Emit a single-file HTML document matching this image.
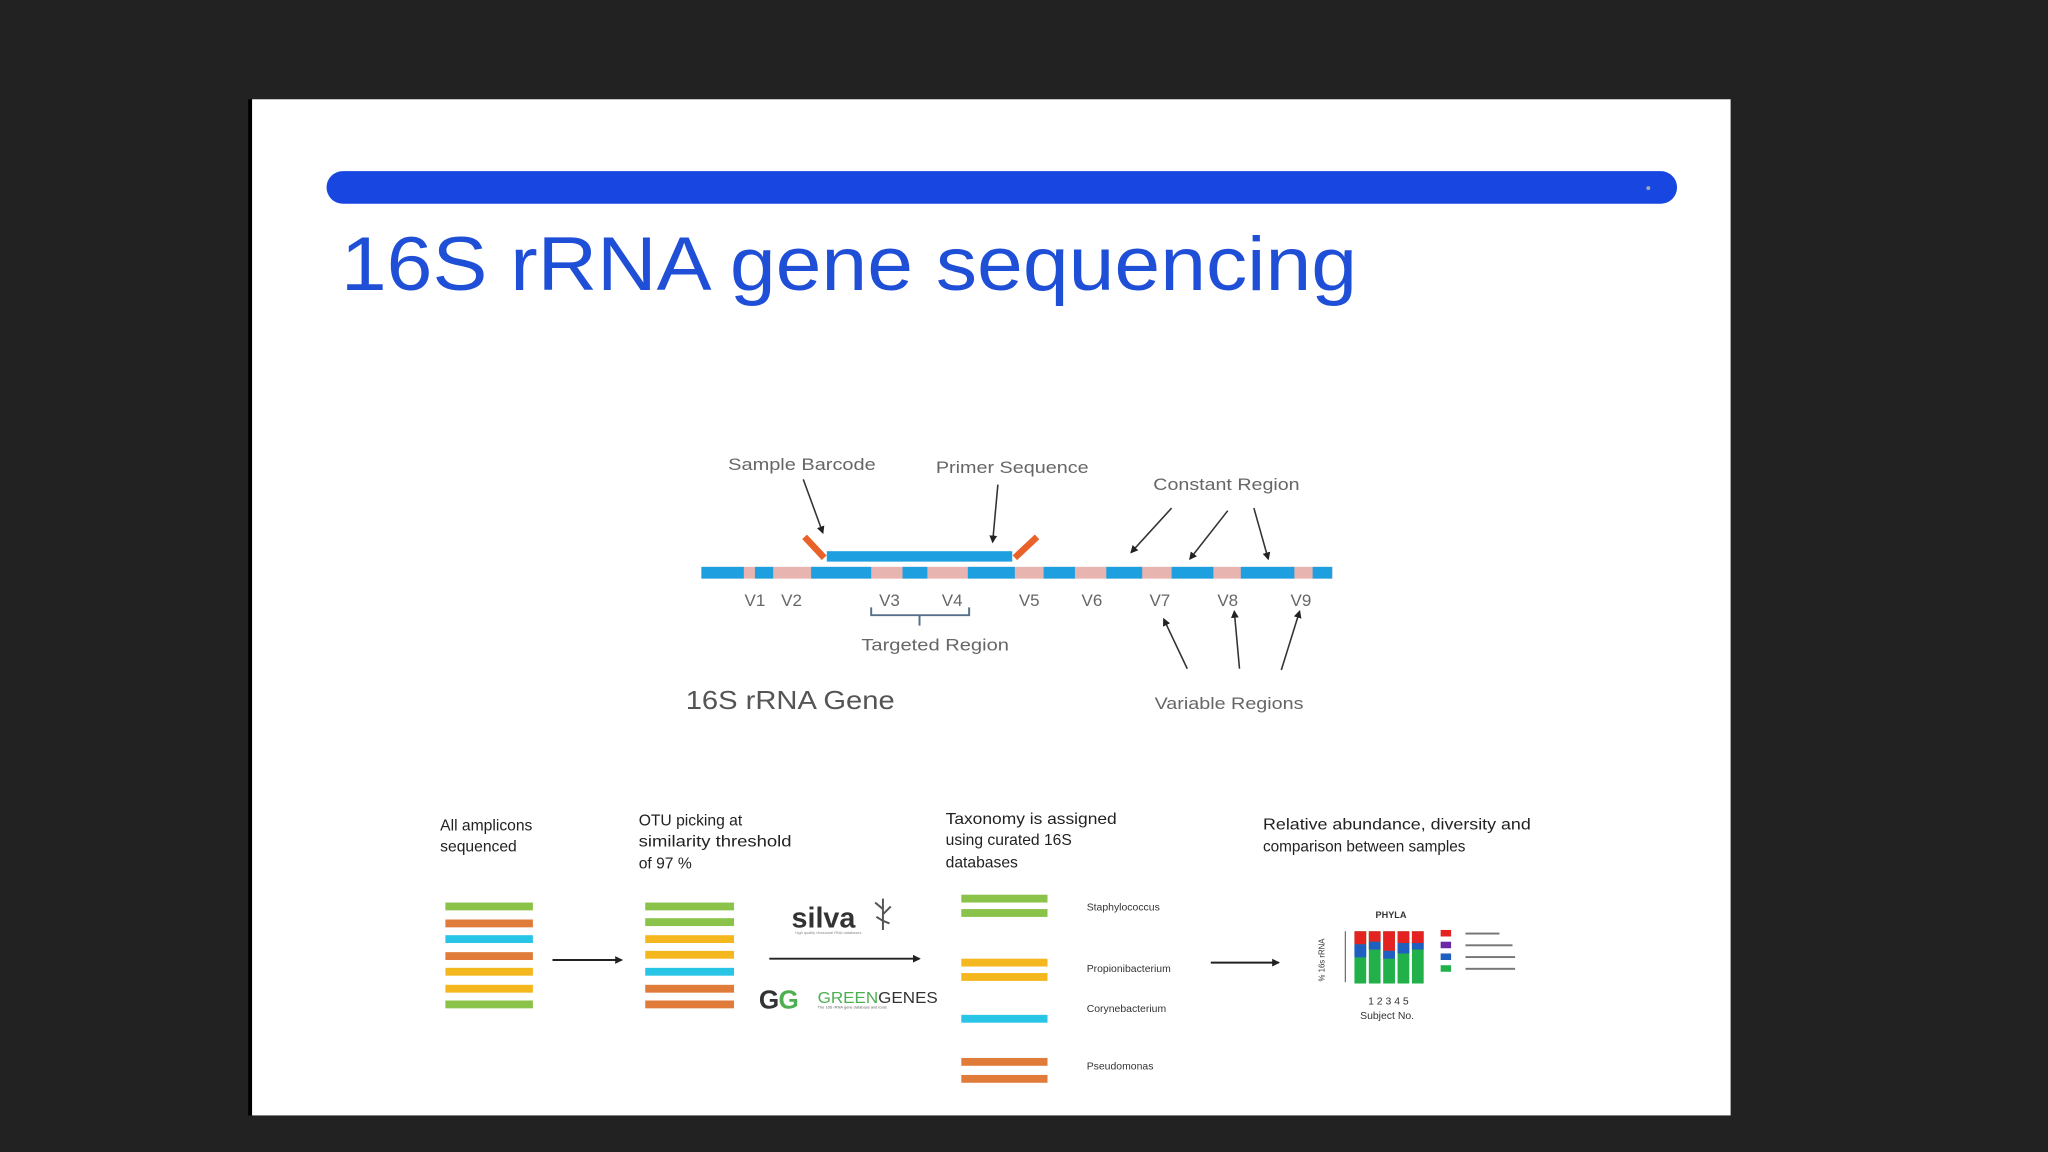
<!DOCTYPE html>
<html><head><meta charset="utf-8"><style>
html,body{margin:0;padding:0;background:#222;}
svg{display:block}
text{font-family:"Liberation Sans",sans-serif}
</style></head><body>
<svg width="2048" height="1152" viewBox="0 0 1568 882" xmlns="http://www.w3.org/2000/svg">
<defs>
<marker id="ah" markerWidth="6" markerHeight="6" refX="5" refY="3" orient="auto" markerUnits="userSpaceOnUse"><path d="M0,0 L6,3 L0,6 z" fill="#222"/></marker>
</defs>
<rect width="1568" height="882" fill="#222"/>
<rect x="190" y="76" width="3" height="778" fill="#000"/>
<rect x="193" y="76" width="1132" height="778" fill="#fff"/>
<rect x="250" y="131" width="1034" height="25" rx="12.5" fill="#1846e0"/>
<circle cx="1262" cy="144" r="1.5" fill="#9ab"/>
<text x="261" y="222" font-size="58" fill="#1f4fd6" textLength="778" lengthAdjust="spacingAndGlyphs">16S rRNA gene sequencing</text>

<!-- gene bar -->
<g>
<rect x="537" y="434" width="483" height="9" fill="#e8b4b0"/>
<g fill="#1ea0e0">
<rect x="537" y="434" width="32.5" height="9"/>
<rect x="578" y="434" width="14" height="9"/>
<rect x="621" y="434" width="46" height="9"/>
<rect x="691" y="434" width="19" height="9"/>
<rect x="741" y="434" width="36" height="9"/>
<rect x="799" y="434" width="24" height="9"/>
<rect x="847" y="434" width="27.5" height="9"/>
<rect x="897" y="434" width="32" height="9"/>
<rect x="950" y="434" width="41" height="9"/>
<rect x="1005" y="434" width="15" height="9"/>
<rect x="633" y="422" width="142" height="8"/>
</g>
<line x1="616" y1="411" x2="631" y2="427" stroke="#e8622a" stroke-width="5"/>
<line x1="777" y1="427" x2="794" y2="411" stroke="#e8622a" stroke-width="5"/>
</g>
<g stroke="#333" stroke-width="1.2" fill="none" marker-end="url(#ah)">
<line x1="615" y1="367" x2="630" y2="408"/>
<line x1="764" y1="371" x2="760" y2="415"/>
<line x1="897" y1="389" x2="866" y2="423"/>
<line x1="940" y1="391" x2="911" y2="428"/>
<line x1="960" y1="389" x2="971" y2="428"/>
<line x1="909" y1="512" x2="891" y2="474"/>
<line x1="949" y1="512" x2="945" y2="468"/>
<line x1="981" y1="513" x2="995" y2="468"/>
</g>
<g font-size="13" fill="#666" text-anchor="middle">
<text x="614" y="360" textLength="113" lengthAdjust="spacingAndGlyphs">Sample Barcode</text>
<text x="775" y="362" textLength="117" lengthAdjust="spacingAndGlyphs">Primer Sequence</text>
<text x="939" y="375" textLength="112" lengthAdjust="spacingAndGlyphs">Constant Region</text>
<text x="578" y="464">V1</text><text x="606" y="464">V2</text>
<text x="681" y="464">V3</text><text x="729" y="464">V4</text>
<text x="788" y="464">V5</text><text x="836" y="464">V6</text>
<text x="888" y="464">V7</text><text x="940" y="464">V8</text>
<text x="996" y="464">V9</text>
<text x="716" y="498" textLength="113" lengthAdjust="spacingAndGlyphs">Targeted Region</text>
<text x="941" y="543" textLength="114" lengthAdjust="spacingAndGlyphs">Variable Regions</text>
</g>
<path d="M667,465 v6 h75 v-6 M704,471 v8" stroke="#56708a" stroke-width="1.5" fill="none"/>
<text x="525" y="543" font-size="20" fill="#555" textLength="160" lengthAdjust="spacingAndGlyphs">16S rRNA Gene</text>

<!-- bottom -->
<g font-size="12" fill="#222">
<text x="337" y="636">All amplicons</text><text x="337" y="652">sequenced</text>
<text x="489" y="632">OTU picking at</text><text x="489" y="648" textLength="117" lengthAdjust="spacingAndGlyphs">similarity threshold</text><text x="489" y="665">of 97 %</text>
<text x="724" y="631" textLength="131" lengthAdjust="spacingAndGlyphs">Taxonomy is assigned</text><text x="724" y="647">using curated 16S</text><text x="724" y="664">databases</text>
<text x="967" y="635" textLength="205" lengthAdjust="spacingAndGlyphs">Relative abundance, diversity and</text><text x="967" y="652" textLength="155" lengthAdjust="spacingAndGlyphs">comparison between samples</text>
</g>
<g>
<rect x="341" y="691" width="67" height="6" fill="#8bc34a"/>
<rect x="341" y="704" width="67" height="6" fill="#e07b39"/>
<rect x="341" y="716" width="67" height="6" fill="#29c5e6"/>
<rect x="341" y="729" width="67" height="6" fill="#e07b39"/>
<rect x="341" y="741" width="67" height="6" fill="#f5b71e"/>
<rect x="341" y="754" width="67" height="6" fill="#f5b71e"/>
<rect x="341" y="766" width="67" height="6" fill="#8bc34a"/>

<rect x="494" y="691" width="68" height="6" fill="#8bc34a"/>
<rect x="494" y="703" width="68" height="6" fill="#8bc34a"/>
<rect x="494" y="716" width="68" height="6" fill="#f5b71e"/>
<rect x="494" y="728" width="68" height="6" fill="#f5b71e"/>
<rect x="494" y="741" width="68" height="6" fill="#29c5e6"/>
<rect x="494" y="754" width="68" height="6" fill="#e07b39"/>
<rect x="494" y="766" width="68" height="6" fill="#e07b39"/>

<rect x="736" y="685" width="66" height="6" fill="#8bc34a"/>
<rect x="736" y="696" width="66" height="6" fill="#8bc34a"/>
<rect x="736" y="734" width="66" height="6" fill="#f5b71e"/>
<rect x="736" y="745" width="66" height="6" fill="#f5b71e"/>
<rect x="736" y="777" width="66" height="6" fill="#29c5e6"/>
<rect x="736" y="810" width="66" height="6" fill="#e07b39"/>
<rect x="736" y="823" width="66" height="6" fill="#e07b39"/>
</g>
<g stroke="#222" stroke-width="1.5" marker-end="url(#ah)">
<line x1="423" y1="735" x2="476" y2="735"/>
<line x1="589" y1="734" x2="704" y2="734"/>
<line x1="927" y1="737" x2="979" y2="737"/>
</g>
<text x="606" y="710" font-size="22" font-weight="bold" fill="#333">silva</text>
<path d="M676,688 v24 M676,696 l-6,-5 M676,700 l6,-6 M676,705 l-5,-3 M676,705 l5,2" stroke="#555" stroke-width="1.5" fill="none"/>
<text x="609" y="715" font-size="3" fill="#888">high quality ribosomal RNA databases</text>
<text x="581" y="772" font-size="20" font-weight="bold" fill="#333">G</text>
<text x="596" y="772" font-size="20" font-weight="bold" fill="#4caf50">G</text>
<text x="626" y="768" font-size="12" fill="#4caf50" textLength="92" lengthAdjust="spacingAndGlyphs">GREEN<tspan fill="#333">GENES</tspan></text>
<text x="626" y="772" font-size="3" fill="#666">The 16S rRNA gene database and tools</text>
<g font-size="8" fill="#333">
<text x="832" y="697">Staphylococcus</text>
<text x="832" y="744">Propionibacterium</text>
<text x="832" y="775">Corynebacterium</text>
<text x="832" y="819">Pseudomonas</text>
</g>
<!-- chart -->
<text x="1065" y="703" font-size="7" font-weight="bold" fill="#333" text-anchor="middle">PHYLA</text>
<text x="1014" y="735" font-size="6" fill="#333" transform="rotate(-90 1014 735)" text-anchor="middle">% 16s rRNA</text>
<line x1="1030" y1="713" x2="1030" y2="752" stroke="#555" stroke-width="0.8"/>
<g>
<rect x="1037" y="713" width="9" height="40" fill="#22b04a"/><rect x="1037" y="713" width="9" height="10" fill="#e52222"/><rect x="1037" y="723" width="9" height="10" fill="#1f5fc0"/>
<rect x="1048" y="713" width="9" height="40" fill="#22b04a"/><rect x="1048" y="713" width="9" height="8" fill="#e52222"/><rect x="1048" y="721" width="9" height="6" fill="#1f5fc0"/>
<rect x="1059" y="713" width="9" height="40" fill="#22b04a"/><rect x="1059" y="713" width="9" height="15" fill="#e52222"/><rect x="1059" y="728" width="9" height="6" fill="#1f5fc0"/>
<rect x="1070" y="713" width="9" height="40" fill="#22b04a"/><rect x="1070" y="713" width="9" height="9" fill="#e52222"/><rect x="1070" y="722" width="9" height="8" fill="#1f5fc0"/>
<rect x="1081" y="713" width="9" height="40" fill="#22b04a"/><rect x="1081" y="713" width="9" height="9" fill="#e52222"/><rect x="1081" y="722" width="9" height="5" fill="#1f5fc0"/>
</g>
<rect x="1103" y="712" width="8" height="5" fill="#e52222"/>
<rect x="1103" y="721" width="8" height="5" fill="#6a2aa8"/>
<rect x="1103" y="730" width="8" height="5" fill="#1f5fc0"/>
<rect x="1103" y="739" width="8" height="5" fill="#22b04a"/>
<g fill="#777"><rect x="1122" y="714" width="26" height="1.5"/><rect x="1122" y="723" width="36" height="1.5"/><rect x="1122" y="732" width="38" height="1.5"/><rect x="1122" y="741" width="38" height="1.5"/></g>
<text x="1063" y="769" font-size="8" fill="#333" text-anchor="middle">1 2 3 4 5</text>
<text x="1062" y="780" font-size="8" fill="#333" text-anchor="middle">Subject No.</text>
</svg>
</body></html>
